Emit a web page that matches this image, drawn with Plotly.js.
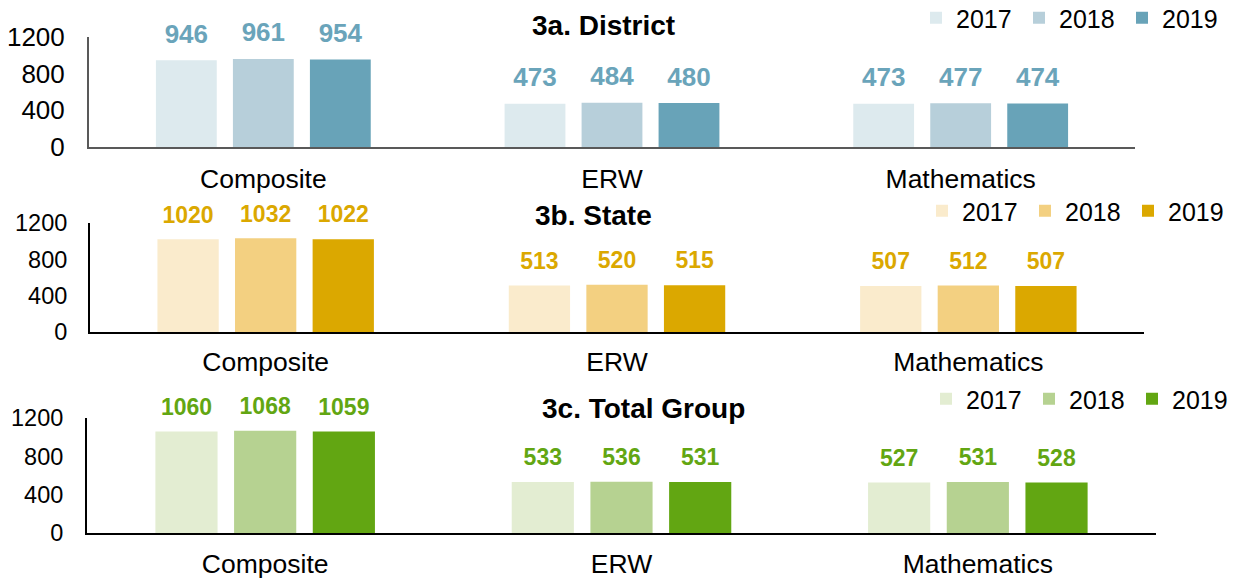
<!DOCTYPE html>
<html>
<head>
<meta charset="utf-8">
<script src="https://cdn.plot.ly/plotly-3.0.1.min.js"></script>
<style>html,body{margin:0;padding:0;background:#fff;overflow:hidden}#chart{width:1233px;height:580px}</style>
</head>
<body>
<div id="chart"></div>
<script>
// ---- data ----
const categories = ["Composite", "ERW", "Mathematics"];
const years = ["2017", "2018", "2019"];
const districtValues = [[946, 473, 473], [961, 484, 477], [954, 480, 474]];
const stateValues = [[1020, 513, 507], [1032, 520, 512], [1022, 515, 507]];
const totalValues = [[1060, 533, 527], [1068, 536, 531], [1059, 531, 528]];
const panelTitles = ["3a. District", "3b. State", "3c. Total Group"];
const yTickVals = [0, 400, 800, 1200];
const yTickText = ["0", "400", "800", "1200"];

// ---- styles ----
const W = 1233, H = 580;
const FONT = "Liberation Sans, Arial, sans-serif";
const panels = [
  {vals: districtValues, colors: ["#DDEAEE", "#B7CFDA", "#68A3B8"], label: "#6AA4BA", line: "#595959",
   xd: [89, 1135], yd: [37, 147], title: [603, 25], leg: [916, 18], xs: 7, ys: 17, lf: 26, tf: 26},
  {vals: stateValues, colors: ["#FAEBCC", "#F3D081", "#DBA800"], label: "#DBA800", line: "#000000",
   xd: [90, 1144], yd: [223, 332], title: [593, 215], leg: [922, 211], xs: 5, ys: 16, lf: 23, tf: 23.5},
  {vals: totalValues, colors: ["#E3EDD2", "#B6D291", "#62A612"], label: "#62A612", line: "#000000",
   xd: [87, 1156], yd: [418, 533], title: [643, 408], leg: [926, 399], xs: 6, ys: 17, lf: 23, tf: 23.5}
];

const traces = [];
const layout = {
  width: W, height: H,
  margin: {l: 0, r: 0, t: 0, b: 0, autoexpand: false},
  paper_bgcolor: "#ffffff", plot_bgcolor: "rgba(0,0,0,0)",
  font: {family: FONT, size: 25, color: "#000000"},
  barmode: "group", bargap: 0.3375, bargroupgap: 0.21,
  scattermode: "group", scattergap: 0.3375,
  annotations: []
};

panels.forEach((p, i) => {
  const n = i === 0 ? "" : String(i + 1);
  const xa = "x" + n, ya = "y" + n, lg = "legend" + n;
  years.forEach((yr, k) => {
    traces.push({
      type: "bar", name: yr, x: categories, y: p.vals[k],
      xaxis: xa, yaxis: ya, legend: lg,
      marker: {color: p.colors[k]}, hoverinfo: "skip"
    });
  });
  years.forEach((yr, k) => {
    traces.push({
      type: "scatter", mode: "markers+text", x: categories, y: p.vals[k],
      xaxis: xa, yaxis: ya, showlegend: false,
      marker: {size: 16, color: "rgba(0,0,0,0)"},
      texttemplate: "<b>%{y}</b>", textposition: "top center",
      textfont: {family: FONT, size: p.lf, color: p.label},
      cliponaxis: false, hoverinfo: "skip"
    });
  });
  layout["xaxis" + n] = {
    domain: [p.xd[0] / W, p.xd[1] / W], anchor: ya,
    range: [-0.5, 2.5], type: "category",
    showline: true, linecolor: p.line, linewidth: 2, showgrid: false, zeroline: false,
    ticks: "", tickfont: {family: FONT, size: 26.5, color: "#000"},
    ticklabelstandoff: p.xs, fixedrange: true, automargin: false
  };
  layout["yaxis" + n] = {
    domain: [1 - p.yd[1] / H, 1 - p.yd[0] / H], anchor: xa,
    range: [0, 1200], tickvals: yTickVals, ticktext: yTickText,
    showline: true, linecolor: p.line, linewidth: 2, showgrid: false, zeroline: false,
    ticks: "", tickfont: {family: FONT, size: p.tf, color: "#000"},
    ticklabelstandoff: p.ys, fixedrange: true, automargin: false
  };
  layout[lg] = {
    orientation: "h", x: p.leg[0] / W, xanchor: "left",
    y: 1 - p.leg[1] / H, yanchor: "middle",
    font: {family: FONT, size: 25, color: "#000"},
    entrywidth: 58, bgcolor: "rgba(0,0,0,0)", borderwidth: 0,
    traceorder: "normal"
  };
  layout.annotations.push({
    xref: "paper", yref: "paper", x: p.title[0] / W, y: 1 - p.title[1] / H,
    xanchor: "center", yanchor: "middle", showarrow: false,
    text: "<b>" + panelTitles[i] + "</b>",
    font: {family: FONT, size: 28, color: "#000"}
  });
});

Plotly.newPlot("chart", traces, layout, {displayModeBar: false, staticPlot: true});
</script>
</body>
</html>
